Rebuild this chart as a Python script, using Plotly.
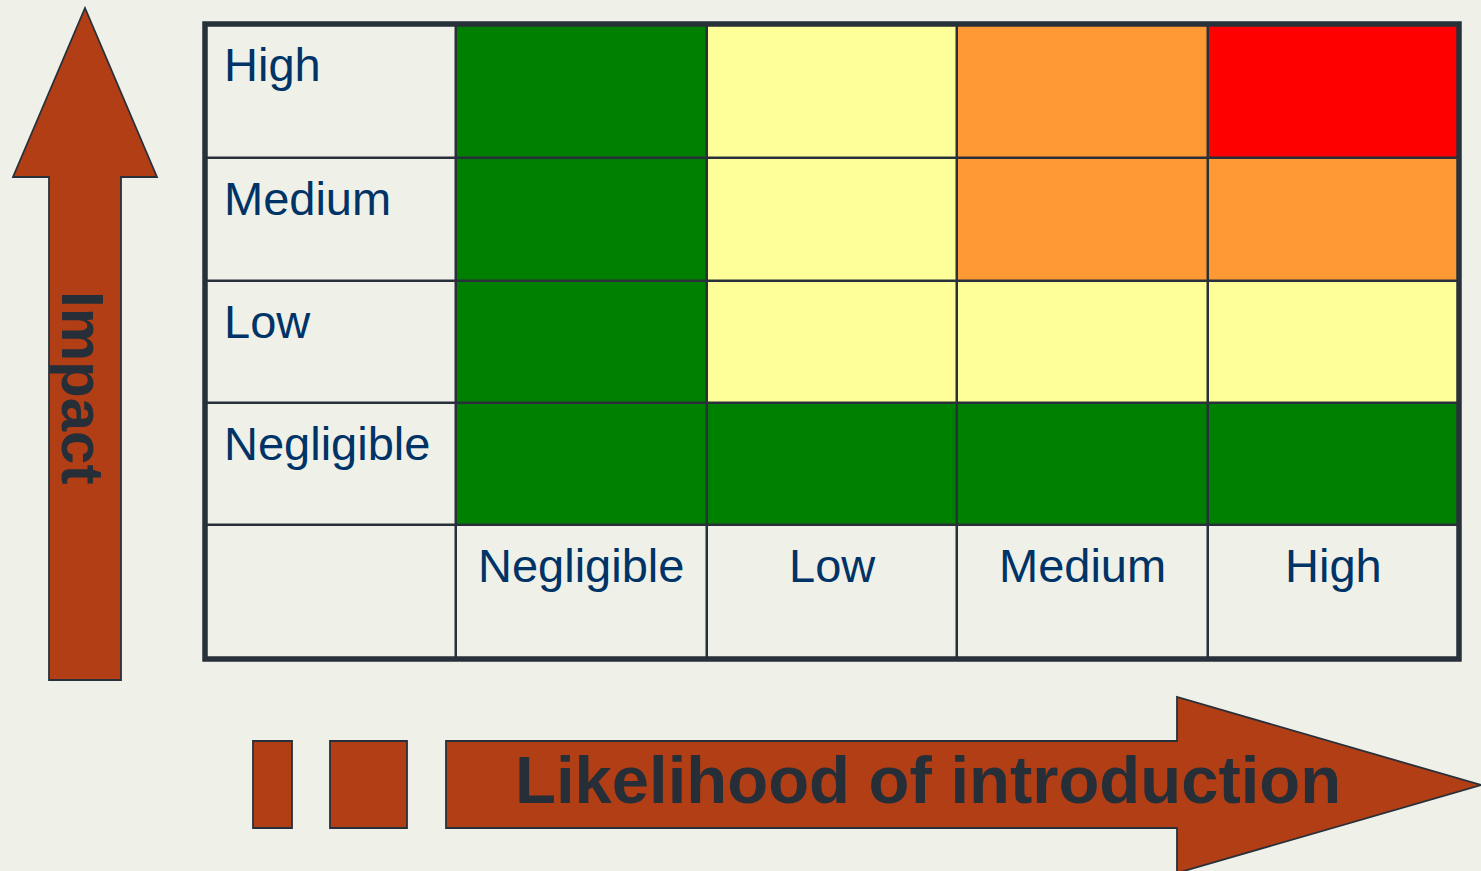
import plotly.graph_objects as go

# ---------------- data ----------------
impact_levels = ["High", "Medium", "Low", "Negligible"]          # rows, top to bottom
likelihood_levels = ["Negligible", "Low", "Medium", "High"]      # columns, left to right
# risk class per cell: 1 = green, 2 = yellow, 3 = orange, 4 = red
risk_high = [1, 2, 3, 4]
risk_medium = [1, 2, 3, 3]
risk_low = [1, 2, 2, 2]
risk_negligible = [1, 1, 1, 1]
risk_rows = [risk_high, risk_medium, risk_low, risk_negligible]
y_title = "Impact"
x_title = "Likelihood of introduction"

# ---------------- styles / layout constants ----------------
W, H = 1481, 871
L, T, R, B = 205, 24, 22, 212
PW, PH = W - L - R, H - T - B
ROW_PX = [134, 123, 122, 122, 134]        # visual row heights of the table
BG = "#EFF0E8"
LINE = "#28303A"
NAVY = "#003366"
BROWN = "#B23E16"
DARK = "#262E38"
COLORS = [BG, "#008000", "#FFFF99", "#FF9933", "#FF0000"]

# table grid: extra label column (left) and label row (bottom)
z = [[0] + row for row in risk_rows] + [[0] * (len(likelihood_levels) + 1)]
x_edges = list(range(len(likelihood_levels) + 2))
y_edges = [0]
for h in ROW_PX:
    y_edges.append(y_edges[-1] + h)

cs = []
n = len(COLORS)
for i, c in enumerate(COLORS):
    cs.append([i / n, c])
    cs.append([(i + 1) / n, c])

fig = go.Figure()
fig.add_trace(go.Heatmap(
    z=z, x=x_edges, y=y_edges, colorscale=cs, zmin=-0.5, zmax=n - 0.5,
    showscale=False, xgap=2.5, ygap=2.5, hoverinfo="skip"))

fig.update_xaxes(range=[x_edges[0], x_edges[-1]], visible=False, fixedrange=True)
fig.update_yaxes(range=[y_edges[-1], y_edges[0]], visible=False, fixedrange=True)

FONT = "Liberation Sans, Arial, sans-serif"
ann = []
# row labels
for i, lab in enumerate(impact_levels):
    ann.append(dict(x=0, y=y_edges[i], xref="x", yref="y", text=lab, showarrow=False,
                    xanchor="left", yanchor="top", xshift=17, yshift=-12,
                    font=dict(family=FONT, size=47, color=NAVY)))
# column labels
for j, lab in enumerate(likelihood_levels):
    ann.append(dict(x=j + 1.5, y=y_edges[-2], xref="x", yref="y", text=lab, showarrow=False,
                    xanchor="center", yanchor="top", yshift=-12,
                    font=dict(family=FONT, size=47, color=NAVY)))


def px(xp):
    return (xp - L) / PW


def py(yp):
    return (T + PH - yp) / PH


def path(points):
    return "M " + " L ".join(f"{px(a):.5f},{py(b):.5f}" for a, b in points) + " Z"


shapes = []
arrow_style = dict(type="path", xref="paper", yref="paper", fillcolor=BROWN,
                   line=dict(color=LINE, width=1.8), layer="above")
up_arrow = [(85, 8), (157, 177), (121, 177), (121, 680), (49, 680), (49, 177), (13, 177)]
right_arrow = [(446, 741), (1177, 741), (1177, 697), (1481, 785), (1177, 873), (1177, 828), (446, 828)]
rect1 = [(253, 741), (292, 741), (292, 828), (253, 828)]
rect2 = [(330, 741), (407, 741), (407, 828), (330, 828)]
for p in (up_arrow, right_arrow, rect1, rect2):
    shapes.append(dict(path=path(p), **arrow_style))
# thick outer frame of the table
shapes.append(dict(type="rect", xref="paper", yref="paper", x0=0, x1=1, y0=0, y1=1,
                   line=dict(color=LINE, width=5.5), layer="above"))

ann.append(dict(x=px(83), y=py(387), xref="paper", yref="paper", text=f"<b>{y_title}</b>",
                textangle=90, showarrow=False, xanchor="center", yanchor="middle",
                font=dict(family=FONT, size=60, color=DARK)))
ann.append(dict(x=px(928), y=py(779), xref="paper", yref="paper", text=f"<b>{x_title}</b>",
                showarrow=False, xanchor="center", yanchor="middle",
                font=dict(family=FONT, size=67, color=DARK)))

fig.update_layout(
    width=W, height=H, margin=dict(l=L, r=R, t=T, b=B, pad=0),
    paper_bgcolor=BG, plot_bgcolor=LINE, shapes=shapes, annotations=ann,
    showlegend=False)

fig.write_html("out.html", config={"displayModeBar": False},
               post_script="document.body.style.margin='0';document.body.style.overflow='hidden';")
